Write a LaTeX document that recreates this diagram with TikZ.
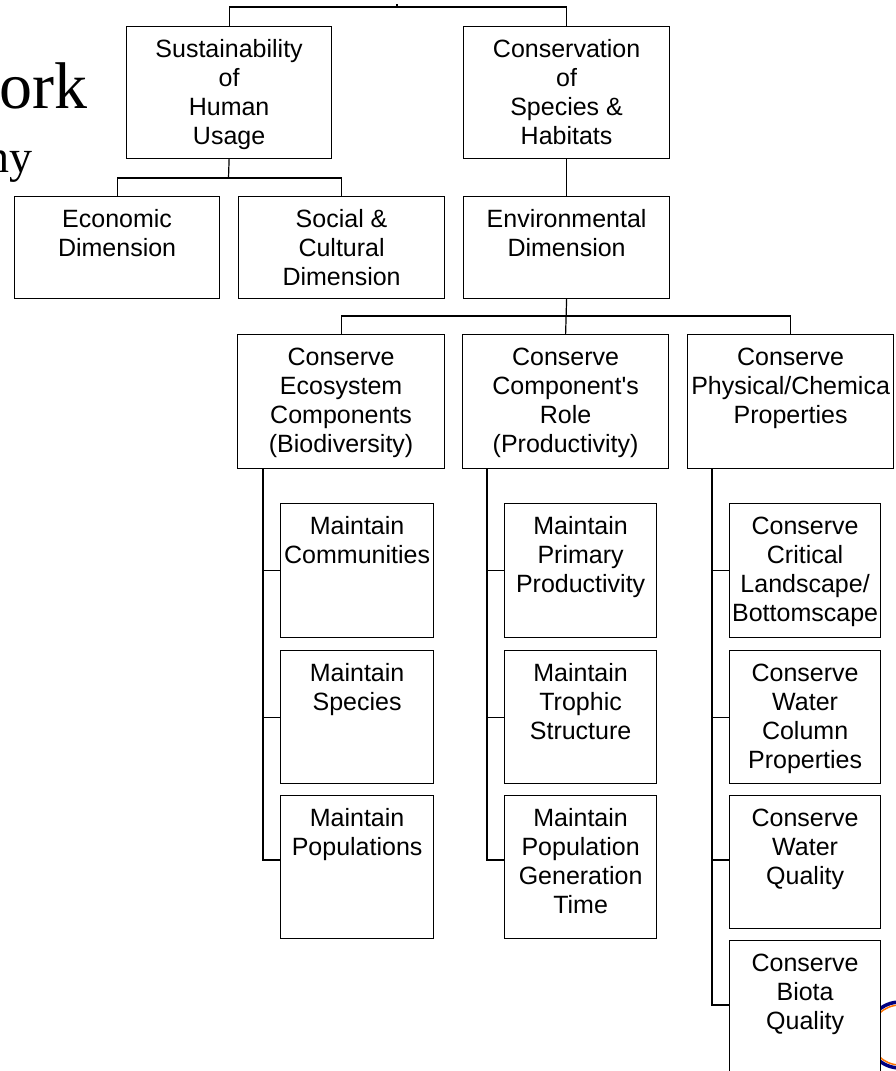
\documentclass[tikz,border=0pt]{standalone}
\usepackage{fontspec}
\setmainfont{Liberation Sans}
\newfontfamily\titlefont{Liberation Serif}
\usetikzlibrary{calc}
\begin{document}
\begin{tikzpicture}[x=1pt,y=-1pt,
  conn/.style={draw=black, line width=1.2pt},
  bx/.style={draw=black, fill=white, line width=1.2pt, inner sep=0pt, anchor=north west}]
\useasboundingbox (0,0) rectangle (895,1071);
\fill[white] (0,0) rectangle (895,1071);
% title fragments
\node[anchor=base east, inner sep=0pt, font=\titlefont\fontsize{66}{70}\selectfont] (t1) at (88,108) {ork};
\node[anchor=base east, inner sep=0pt, font=\titlefont\fontsize{46}{50}\selectfont] (t2) at (33,172) {ny};
% logo fragment
\draw[line width=3.5pt, draw=blue!50!black] (900,1035) circle (33);
\draw[line width=1.5pt, draw=orange!90!red] (900,1035) circle (30);
\newcommand{\bxt}[3]{\parbox[c][#2pt][t]{#1pt}{\centering\fontsize{25}{29}\selectfont\rule{0pt}{31pt}#3}}
% boxes
\node[bx] (sus) at (126,26) {\bxt{205}{132}{Sustainability\\of\\Human\\Usage}};
\node[bx] (con) at (463,26) {\bxt{206}{132}{Conservation\\of\\Species \&\\Habitats}};
\node[bx] (eco) at (14,196) {\bxt{205}{102}{Economic\\Dimension}};
\node[bx] (soc) at (238,196) {\bxt{206}{102}{Social \&\\Cultural\\Dimension}};
\node[bx] (env) at (463,196) {\bxt{206}{102}{Environmental\\Dimension}};
\node[bx] (bio) at (237,334) {\bxt{207}{134}{Conserve\\Ecosystem\\Components\\(Biodiversity)}};
\node[bx] (pro) at (462,334) {\bxt{206}{134}{Conserve\\Component\textquotesingle s\\Role\\(Productivity)}};
\node[bx] (phy) at (687,334) {\bxt{206}{134}{Conserve\\Physical/Chemica\\Properties}};
\node[bx] (mc) at (280,503) {\bxt{153}{134}{Maintain\\Communities}};
\node[bx] (ms) at (280,650) {\bxt{153}{133}{Maintain\\Species}};
\node[bx] (mp) at (280,795) {\bxt{153}{143}{Maintain\\Populations}};
\node[bx] (pp) at (504,503) {\bxt{152}{134}{Maintain\\Primary\\Productivity}};
\node[bx] (pt) at (504,650) {\bxt{152}{133}{Maintain\\Trophic\\Structure}};
\node[bx] (pg) at (504,795) {\bxt{152}{143}{Maintain\\Population\\Generation\\Time}};
\node[bx] (cl) at (729,503) {\bxt{151}{134}{Conserve\\Critical\\Landscape/\\Bottomscape}};
\node[bx] (cw) at (729,650) {\bxt{151}{133}{Conserve\\Water\\Column\\Properties}};
\node[bx] (cq) at (729,795) {\bxt{151}{133}{Conserve\\Water\\Quality}};
\node[bx] (cb) at (729,940) {\bxt{151}{133}{Conserve\\Biota\\Quality}};
% junction coordinates
\coordinate (top) at (397,7);
\coordinate (topstub) at (397,4);
\coordinate (j1) at (228.5,178);
\coordinate (j2) at (566,316);
\coordinate (sL) at (263,468);
\coordinate (sM) at (487,468);
\coordinate (sR) at (712,468);
% connectors
\draw[conn] (topstub) -- (top);
\draw[conn] (sus.north) |- (top) -| (con.north);
\draw[conn] (sus.south) -- (j1);
\draw[conn] (eco.north) |- (j1) -| (soc.north);
\draw[conn] (con.south) -- (env.north);
\draw[conn] (env.south) -- (pro.north);
\draw[conn] (bio.north) |- (j2) -| (phy.north);
% left spine
\draw[conn] (sL) |- ($(mp.north west)+(0,65)$);
\draw[conn] (sL |- mc.west) -- (mc.west);
\draw[conn] (sL |- ms.west) -- (ms.west);
% middle spine
\draw[conn] (sM) |- ($(pg.north west)+(0,65)$);
\draw[conn] (sM |- pp.west) -- (pp.west);
\draw[conn] (sM |- pt.west) -- (pt.west);
% right spine
\draw[conn] (sR) |- ($(cb.north west)+(0,65)$);
\draw[conn] (sR |- cl.west) -- (cl.west);
\draw[conn] (sR |- cw.west) -- (cw.west);
\draw[conn] ($(sR |- cq.north west)+(0,65)$) -- ($(cq.north west)+(0,65)$);
\end{tikzpicture}
\end{document}
